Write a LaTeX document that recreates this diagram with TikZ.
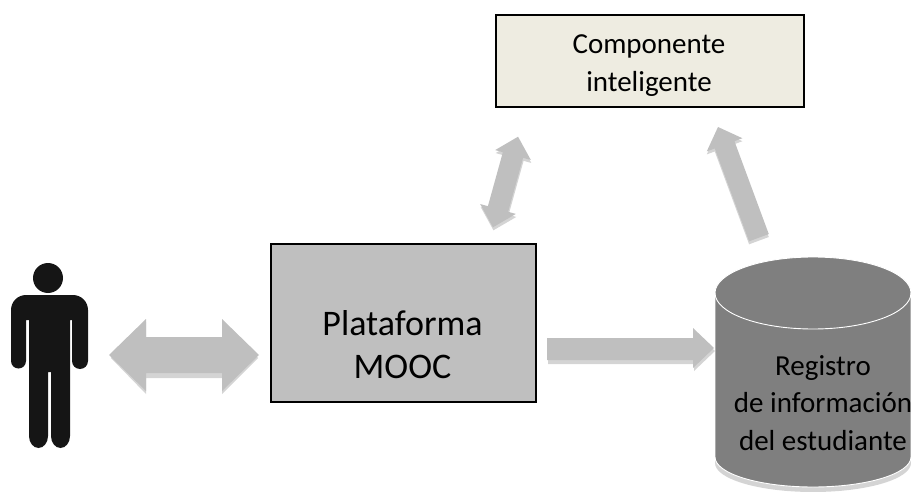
\documentclass[tikz,border=0pt]{standalone}
\usepackage{fontspec}
\setmainfont{Carlito}
\definecolor{arrowgrey}{HTML}{BFBFBF}
\definecolor{shadowgrey}{HTML}{D4D4D4}
\definecolor{boxcream}{HTML}{EEECE1}
\definecolor{cylgrey}{HTML}{7F7F7F}
\definecolor{manblack}{HTML}{151515}
\tikzset{
  boxstyle/.style={draw=black,line width=1.6pt,inner sep=0pt,align=center,anchor=north west},
  fatarrow/.style={fill=arrowgrey,draw=none},
  fatshadow/.style={fill=shadowgrey,draw=none},
  manpart/.style={fill=manblack,draw=none},
  bigtext/.style={font=\fontsize{36pt}{43pt}\selectfont,align=center,text=black},
  smalltext/.style={font=\fontsize{29pt}{37.5pt}\selectfont,align=center,text=black}
}
\begin{document}
\begin{tikzpicture}[x=1pt,y=1pt]
\useasboundingbox (0,0) rectangle (911,-492);
\clip (0,0) rectangle (911,-492);
% person
\fill[manpart] (48,-278) circle (15);
\fill[manpart] (26,-295) -- (73,-295) arc (90:0:15) -- (88,-361) arc (0:-180:8) -- (72,-320) -- (70,-320) -- (70,-436)
  arc (0:-180:9.5 and 12) -- (51,-372) -- (48,-372) -- (48,-436) arc (0:-180:9.5 and 12) -- (29,-320) -- (26,-320) -- (26,-361)
  arc (0:-180:7.5) -- (11,-310) arc (180:90:15) -- cycle;
% cylinder
\fill[shadowgrey] (715,-320) -- (715,-463) arc (180:360:98 and 29) -- (911,-320) -- cycle;
\fill[cylgrey,draw=white,line width=0.9pt] (715,-293) -- (715,-457) arc (180:360:98 and 30) -- (911,-293) arc (0:180:98 and 36) -- cycle;
\coordinate (cylw) at (715,-293);
\draw[white,line width=0.9pt] (cylw) arc (180:360:98 and 36);
% boxes
\node[boxstyle,fill=boxcream,minimum width=308pt,minimum height=92pt] (comp) at (495,-14) {};
\node[boxstyle,fill=arrowgrey,minimum width=265pt,minimum height=158pt] (plat) at (270,-243) {};
\node[bigtext] (plattext) at (402.5,-345) {Plataforma\\MOOC};
\node[smalltext] (comptext) at (649,-65.5) {Componente\\inteligente};
\node[smalltext] (regtext) at (823,-403) {Registro\\de información\\del estudiante};
% person <-> platform arrow
\fill[fatshadow] (111,-358) -- (146,-322) -- (146,-342) -- (222,-342) -- (222,-322) -- (258,-358) -- (222,-394) -- (222,-378) -- (146,-378) -- (146,-394) -- cycle;
\fill[fatarrow] (109,-355) -- (146,-319) -- (146,-337) -- (222,-337) -- (222,-319) -- (259,-355) -- (222,-391) -- (222,-373) -- (146,-373) -- (146,-391) -- cycle;
% platform -> register arrow
\fill[fatshadow] (548,-342) -- (694,-342) -- (694,-331) -- (715,-351) -- (694,-371) -- (694,-364) -- (548,-364) -- cycle;
\fill[fatarrow] (547,-338) -- (693,-338) -- (693,-328) -- (714,-348) -- (693,-368) -- (693,-360) -- (547,-360) -- cycle;
% diagonal double arrow
\begin{scope}[shift={(506,-185)},rotate=-15.5]
\fill[fatshadow] (0,47) -- (18.5,28) -- (10.5,28) -- (10.5,-28) -- (18.5,-28) -- (0,-47) -- (-18.5,-28) -- (-10.5,-28) -- (-10.5,28) -- (-18.5,28) -- cycle;
\end{scope}
\begin{scope}[shift={(505.5,-182)},rotate=-15.5]
\fill[fatarrow] (0,47) -- (18.5,28) -- (10.5,28) -- (10.5,-28) -- (18.5,-28) -- (0,-47) -- (-18.5,-28) -- (-10.5,-28) -- (-10.5,28) -- (-18.5,28) -- cycle;
\end{scope}
% diagonal single arrow
\begin{scope}[shift={(718,-130)},rotate=20.3]
\fill[fatshadow] (0,0) -- (19,-19) -- (10.5,-19) -- (10.5,-118) -- (-10.5,-118) -- (-10.5,-19) -- (-19,-19) -- cycle;
\end{scope}
\begin{scope}[shift={(718,-127)},rotate=20.3]
\fill[fatarrow] (0,0) -- (19,-19) -- (10.5,-19) -- (10.5,-118) -- (-10.5,-118) -- (-10.5,-19) -- (-19,-19) -- cycle;
\end{scope}
\end{tikzpicture}
\end{document}
